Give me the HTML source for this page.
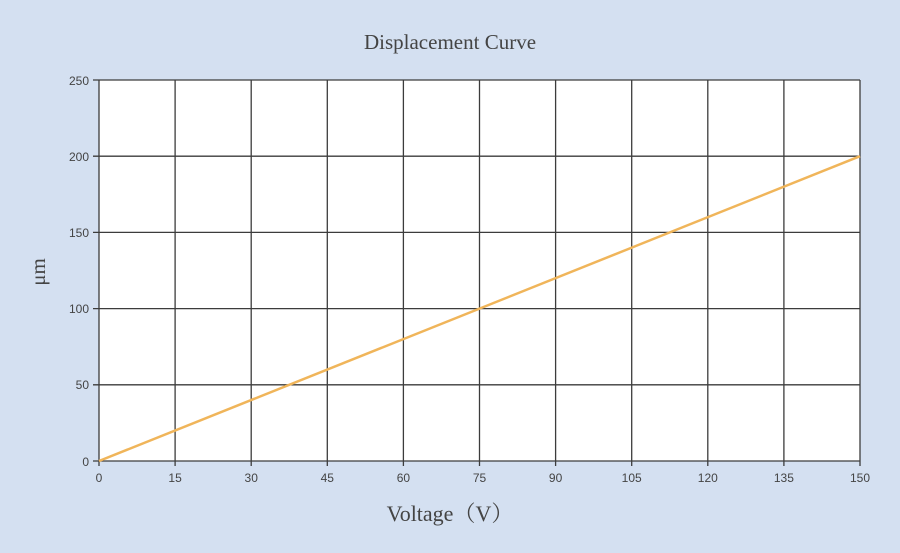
<!DOCTYPE html>
<html><head><style>body{margin:0;background:#d4e0f1;}svg{display:block}</style></head><body>
<svg width="900" height="553" xmlns="http://www.w3.org/2000/svg">
<rect width="900" height="553" fill="#d4e0f1"/>
<text x="450" y="49" text-anchor="middle" font-family="Liberation Serif, serif" font-size="21" fill="#444">Displacement Curve</text>
<rect x="99" y="80" width="761" height="381" fill="#fff"/>
<g stroke="#3c3c3c" stroke-width="1.3">
<line x1="175.1" y1="80" x2="175.1" y2="466"/><line x1="251.2" y1="80" x2="251.2" y2="466"/><line x1="327.3" y1="80" x2="327.3" y2="466"/><line x1="403.4" y1="80" x2="403.4" y2="466"/><line x1="479.5" y1="80" x2="479.5" y2="466"/><line x1="555.6" y1="80" x2="555.6" y2="466"/><line x1="631.7" y1="80" x2="631.7" y2="466"/><line x1="707.8" y1="80" x2="707.8" y2="466"/><line x1="783.9" y1="80" x2="783.9" y2="466"/><line x1="860" y1="80" x2="860" y2="466"/>
<line x1="93" y1="80" x2="860" y2="80"/><line x1="93" y1="156.2" x2="860" y2="156.2"/><line x1="93" y1="232.4" x2="860" y2="232.4"/><line x1="93" y1="308.6" x2="860" y2="308.6"/><line x1="93" y1="384.8" x2="860" y2="384.8"/>
<line x1="99" y1="80" x2="99" y2="466"/><line x1="93" y1="461" x2="860" y2="461"/>
</g>
<line x1="99" y1="461" x2="860" y2="156.2" stroke="#f0b55a" stroke-width="2.5"/>
<g font-family="Liberation Sans, sans-serif" font-size="12" fill="#444" text-anchor="end">
<text x="89" y="85">250</text><text x="89" y="161">200</text><text x="89" y="237">150</text><text x="89" y="313">100</text><text x="89" y="389">50</text><text x="89" y="466">0</text>
</g>
<g font-family="Liberation Sans, sans-serif" font-size="12" fill="#444" text-anchor="middle">
<text x="99" y="482">0</text><text x="175.1" y="482">15</text><text x="251.2" y="482">30</text><text x="327.3" y="482">45</text><text x="403.4" y="482">60</text><text x="479.5" y="482">75</text><text x="555.6" y="482">90</text><text x="631.7" y="482">105</text><text x="707.8" y="482">120</text><text x="783.9" y="482">135</text><text x="860" y="482">150</text>
</g>
<text x="450" y="521" text-anchor="middle" font-family="Liberation Serif, 'Noto Serif CJK SC', serif" font-size="22" fill="#444">Voltage（V）</text>
<text transform="translate(45,272) rotate(-90)" text-anchor="middle" font-family="Liberation Serif, serif" font-size="21" fill="#444">μm</text>
</svg>
</body></html>
